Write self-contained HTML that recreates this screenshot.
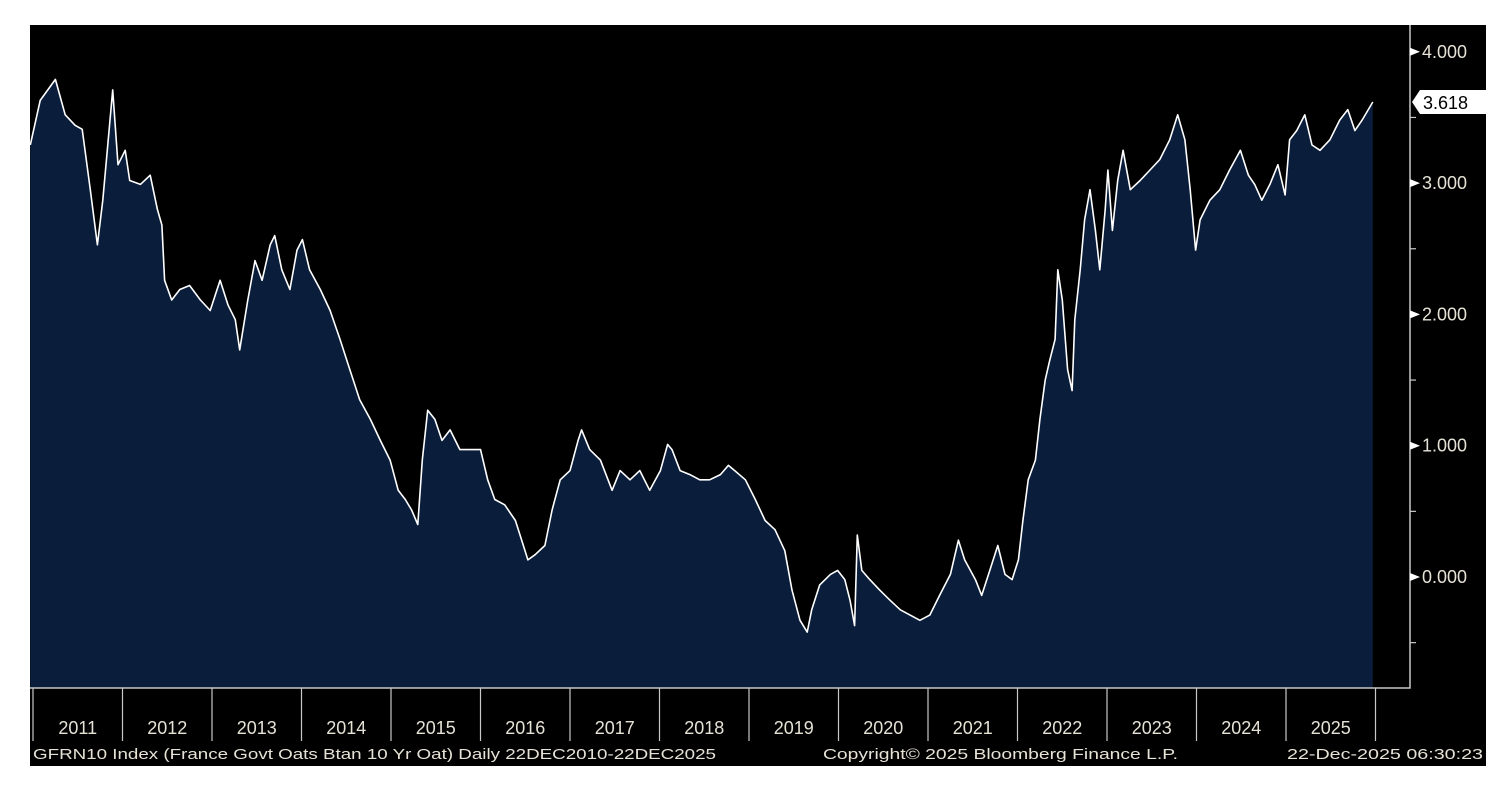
<!DOCTYPE html>
<html><head><meta charset="utf-8"><style>
html,body{margin:0;padding:0;background:#fff;width:1508px;height:806px;overflow:hidden}
svg{display:block}
text{font-family:"Liberation Sans","DejaVu Sans",sans-serif;fill:#e6e2d6}
</style></head><body>
<svg id="c" width="1508" height="806">
<rect x="30" y="25" width="1456" height="741" fill="#000"/>
<g id="plot"></g>
<text x="33" y="759" font-size="15" textLength="683" lengthAdjust="spacingAndGlyphs">GFRN10 Index (France Govt Oats Btan 10 Yr Oat) Daily 22DEC2010-22DEC2025</text>
<text x="823" y="759" font-size="15" textLength="355" lengthAdjust="spacingAndGlyphs">Copyright© 2025 Bloomberg Finance L.P.</text>
<text x="1287" y="759" font-size="15" textLength="196" lengthAdjust="spacingAndGlyphs">22-Dec-2025 06:30:23</text>
</svg>
<script>
const dates=[2010.97,2011.08,2011.25,2011.36,2011.47,2011.55,2011.64,2011.72,2011.78,2011.86,2011.89,2011.95,2012.03,2012.08,2012.20,2012.31,2012.39,2012.44,2012.47,2012.55,2012.64,2012.75,2012.87,2012.98,2013.09,2013.18,2013.26,2013.31,2013.40,2013.48,2013.56,2013.65,2013.70,2013.78,2013.87,2013.95,2014.01,2014.09,2014.21,2014.32,2014.43,2014.54,2014.65,2014.77,2014.88,2014.99,2015.08,2015.16,2015.23,2015.30,2015.35,2015.41,2015.49,2015.57,2015.66,2015.77,2015.88,2016.00,2016.08,2016.16,2016.27,2016.39,2016.46,2016.53,2016.61,2016.72,2016.80,2016.89,2017.00,2017.09,2017.13,2017.22,2017.34,2017.47,2017.56,2017.67,2017.78,2017.89,2018.01,2018.09,2018.14,2018.23,2018.34,2018.45,2018.56,2018.68,2018.77,2018.84,2018.96,2019.07,2019.18,2019.29,2019.40,2019.48,2019.57,2019.65,2019.70,2019.79,2019.91,2019.99,2020.07,2020.13,2020.18,2020.21,2020.26,2020.35,2020.46,2020.58,2020.69,2020.80,2020.91,2021.02,2021.13,2021.25,2021.34,2021.41,2021.53,2021.60,2021.69,2021.78,2021.86,2021.94,2022.01,2022.06,2022.12,2022.20,2022.25,2022.31,2022.36,2022.42,2022.45,2022.50,2022.56,2022.61,2022.64,2022.70,2022.75,2022.81,2022.87,2022.92,2022.98,2023.01,2023.06,2023.12,2023.18,2023.26,2023.37,2023.48,2023.59,2023.70,2023.79,2023.87,2023.93,2023.99,2024.04,2024.15,2024.26,2024.37,2024.49,2024.58,2024.65,2024.73,2024.82,2024.91,2024.99,2025.04,2025.12,2025.21,2025.29,2025.38,2025.49,2025.60,2025.69,2025.77,2025.85,2025.92,2025.97];
const yields=[3.29,3.63,3.79,3.52,3.44,3.41,2.95,2.53,2.87,3.48,3.71,3.14,3.25,3.02,2.99,3.06,2.80,2.68,2.26,2.11,2.19,2.22,2.11,2.03,2.26,2.07,1.96,1.73,2.11,2.41,2.26,2.53,2.60,2.34,2.19,2.49,2.57,2.34,2.19,2.03,1.81,1.58,1.35,1.20,1.04,0.89,0.66,0.59,0.51,0.40,0.89,1.27,1.20,1.04,1.12,0.97,0.97,0.97,0.74,0.59,0.55,0.43,0.28,0.13,0.17,0.24,0.51,0.74,0.81,1.04,1.12,0.97,0.89,0.66,0.81,0.74,0.81,0.66,0.81,1.01,0.97,0.81,0.78,0.74,0.74,0.78,0.85,0.81,0.74,0.59,0.43,0.36,0.20,-0.10,-0.33,-0.42,-0.25,-0.06,0.02,0.05,-0.02,-0.18,-0.37,0.32,0.05,-0.02,-0.10,-0.18,-0.25,-0.29,-0.33,-0.29,-0.14,0.02,0.28,0.13,-0.02,-0.14,0.05,0.24,0.02,-0.02,0.13,0.43,0.74,0.89,1.20,1.50,1.65,1.81,2.34,2.11,1.58,1.42,1.96,2.34,2.72,2.95,2.64,2.34,2.80,3.10,2.64,3.02,3.25,2.95,3.02,3.10,3.18,3.33,3.52,3.33,2.95,2.49,2.72,2.87,2.95,3.10,3.25,3.06,2.99,2.87,2.99,3.14,2.91,3.33,3.40,3.52,3.29,3.25,3.33,3.48,3.56,3.40,3.48,3.56,3.618];
const yTicks=[4,3,2,1,0];
const yTickLabels=["4.000","3.000","2.000","1.000","0.000"];
const years=[2011,2012,2013,2014,2015,2016,2017,2018,2019,2020,2021,2022,2023,2024,2025];
const lastLabel="3.618";

const X0=33,PXY=89.5,Y0=577,PXU=131.3,TOP=25,BOT=688,LEFT=30,RIGHT=1410;
const xs=t=>X0+(t-2011)*PXY;
const ys=v=>Y0-v*PXU;
const NS="http://www.w3.org/2000/svg";
const g=document.getElementById('plot');
function mk(tag,attrs){const e=document.createElementNS(NS,tag);for(const k in attrs)e.setAttribute(k,attrs[k]);g.appendChild(e);return e;}

let pts=dates.map((d,i)=>[xs(d),ys(yields[i])]);
pts[0][0]=Math.max(pts[0][0],LEFT);
const lineD='M'+pts.map(p=>p[0].toFixed(1)+','+p[1].toFixed(1)).join('L');
const area=mk('path',{d:lineD+`L${pts[pts.length-1][0].toFixed(1)},${BOT}L${pts[0][0].toFixed(1)},${BOT}Z`,fill:'#0a1e3c'});


const line=mk('path',{d:lineD,fill:'none',stroke:'#fff','stroke-width':1.6,'stroke-linejoin':'round'});



const axes=mk('path',{d:`M${LEFT},${BOT}H${RIGHT}V${TOP}`,fill:'none',stroke:'#c8c8c8','stroke-width':1.5});



yTicks.forEach((v,i)=>{
  const y=ys(v);
  const tri=mk('path',{d:`M${RIGHT},${y-4}L${RIGHT+10},${y}L${RIGHT},${y+4}Z`,fill:'#fff'});
  
  
  const t=mk('text',{x:RIGHT+12,y:y+6,'font-size':18});
  t.textContent=yTickLabels[i];
  
  
  const m=mk('line',{x1:RIGHT,x2:RIGHT+6,y1:ys(v-0.5),y2:ys(v-0.5),stroke:'#c8c8c8','stroke-width':1.2});
  
  
});

const ly=ys(yields[yields.length-1]);
const box=mk('path',{d:`M${RIGHT+2},${ly}L${RIGHT+10},${ly-12}H1486V${ly+12}H${RIGHT+10}Z`,fill:'#fff'});


const lt=mk('text',{x:RIGHT+13,y:ly+7,'font-size':18,style:'fill:#000'});
lt.textContent=lastLabel;



years.concat([2026]).forEach(yr=>{
  const x=xs(yr);
  const l=mk('line',{x1:x,x2:x,y1:BOT,y2:741,stroke:'#c8c8c8','stroke-width':1.2});
  
  
});
years.forEach(yr=>{
  const t=mk('text',{x:xs(yr+0.5),y:734,'font-size':18,'text-anchor':'middle'});
  t.textContent=yr;
  
  
});
</script>
</body></html>
